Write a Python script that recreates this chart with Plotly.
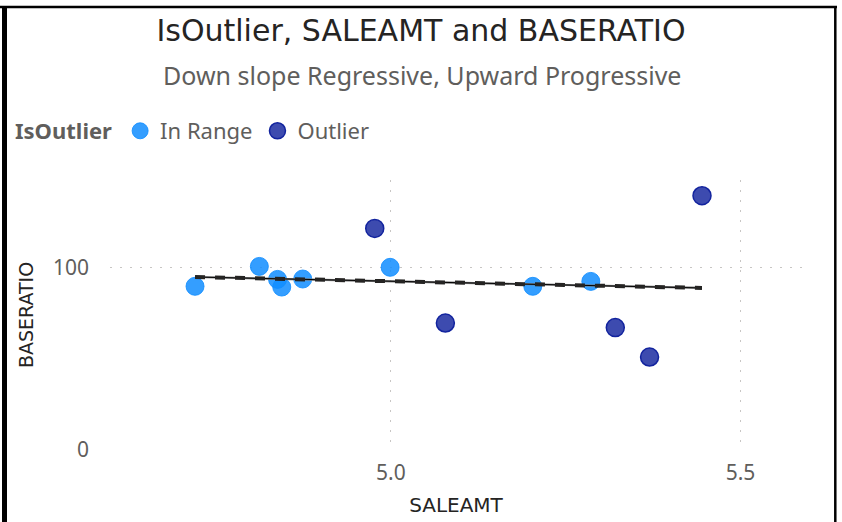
import plotly.graph_objects as go

# ---- data ----
in_range_saleamt = [4.720, 4.812, 4.838, 4.844, 4.874, 4.999, 5.203, 5.286]
in_range_baseratio = [89.6, 100.5, 93.4, 89.2, 93.6, 100.0, 89.6, 92.3]

outlier_saleamt = [4.977, 5.078, 5.321, 5.370, 5.445]
outlier_baseratio = [121.3, 69.5, 67.0, 50.9, 139.2]

trend_saleamt = [4.720, 5.445]
trend_baseratio = [94.7, 88.7]

x_tickvals = [5.0, 5.5]
x_ticktext = ["5.0", "5.5"]
y_tickvals = [0, 100]
y_ticktext = ["0", "100"]

title_text = "IsOutlier, SALEAMT and BASERATIO"
subtitle_text = "Down slope Regressive, Upward Progressive"

# ---- figure ----
W, H = 842, 522
L, R, T, B = 110, 40, 180, 72
PW, PH = W - L - R, H - T - B


def px_x(px):
    return (px - L) / PW


def px_y(py):
    return (H - B - py) / PH


fig = go.Figure()

fig.add_trace(go.Scatter(
    x=in_range_saleamt, y=in_range_baseratio, mode="markers", name="In Range",
    marker=dict(size=18, color="rgba(17,141,255,0.85)",
                line=dict(width=1, color="rgba(17,141,255,0.85)")),
))
fig.add_trace(go.Scatter(
    x=outlier_saleamt, y=outlier_baseratio, mode="markers", name="Outlier",
    marker=dict(size=18, color="rgba(18,35,158,0.82)",
                line=dict(width=1.5, color="rgb(18,35,158)")),
))
# trend line: thin solid + thick dashes
fig.add_trace(go.Scatter(
    x=trend_saleamt, y=trend_baseratio, mode="lines", showlegend=False,
    line=dict(color="#777777", width=2.2), hoverinfo="skip",
))
fig.add_trace(go.Scatter(
    x=trend_saleamt, y=trend_baseratio, mode="lines", showlegend=False,
    line=dict(color="#000000", width=1), hoverinfo="skip",
))
fig.add_trace(go.Scatter(
    x=trend_saleamt, y=trend_baseratio, mode="lines", showlegend=False,
    line=dict(color="#252423", width=4, dash="10px,10px"), hoverinfo="skip",
))

grid = dict(showgrid=True, gridcolor="#C8C6C4", gridwidth=1, griddash="2px,8px",
            zeroline=False, showline=False, automargin=False)

fig.update_layout(
    width=W, height=H,
    margin=dict(l=L, r=R, t=T, b=B, pad=0, autoexpand=False),
    paper_bgcolor="white", plot_bgcolor="white",
    title=dict(text=title_text, x=0.5, xanchor="center", xref="container",
               y=1 - 30 / H, yanchor="middle", yref="container",
               font=dict(family="DejaVu Sans", size=30, color="#252423")),
    xaxis=dict(range=[4.5984, 5.588], tickvals=x_tickvals, ticktext=x_ticktext,
               tickfont=dict(family="Noto Sans", size=21, color="#605E5C"),
               ticks="", ticklabelstandoff=8,
               title=dict(text="SALEAMT", standoff=12,
                          font=dict(family="DejaVu Sans", size=20, color="#252423")),
               **grid),
    yaxis=dict(range=[0, 147.8], tickvals=y_tickvals, ticktext=y_ticktext,
               tickfont=dict(family="Noto Sans", size=21, color="#605E5C"),
               ticks="", ticklabelstandoff=20,
               title=dict(text="BASERATIO", standoff=14,
                          font=dict(family="DejaVu Sans", size=19, color="#252423")),
               **grid),
    legend=dict(orientation="h", x=px_x(13), xanchor="left", y=px_y(131), yanchor="middle",
                font=dict(family="Noto Sans", size=22, color="#605E5C"),
                title=dict(text="<b>IsOutlier</b>", side="left",
                           font=dict(family="Noto Sans", size=22, color="#605E5C")),
                itemsizing="trace", tracegroupgap=0,
                bgcolor="rgba(0,0,0,0)"),
    annotations=[dict(text=subtitle_text, x=px_x(422), y=px_y(75), xref="paper", yref="paper",
                      xanchor="center", yanchor="middle", showarrow=False,
                      font=dict(family="Noto Sans", size=25, color="#605E5C"))],
    shapes=[
        dict(type="line", xref="paper", yref="paper", x0=px_x(0), x1=px_x(837), y0=px_y(7), y1=px_y(7),
             line=dict(color="black", width=2.5)),
        dict(type="line", xref="paper", yref="paper", x0=px_x(4.5), x1=px_x(4.5), y0=px_y(6), y1=px_y(530),
             line=dict(color="black", width=5)),
        dict(type="line", xref="paper", yref="paper", x0=px_x(835.3), x1=px_x(835.3), y0=px_y(6), y1=px_y(530),
             line=dict(color="black", width=2.5)),
    ],
    hovermode="closest",
)

fig.write_html("out.html", config={"displayModeBar": False},
               post_script="document.body.style.margin='0';document.body.style.overflow='hidden';")
